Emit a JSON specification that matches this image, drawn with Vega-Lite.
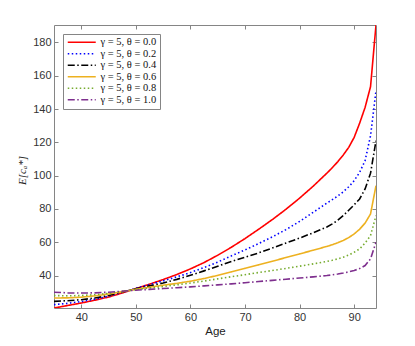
{
  "$schema": "https://vega.github.io/schema/vega-lite/v6.json",
  "width": 322,
  "height": 283,
  "autosize": {"type": "none"},
  "padding": {"left": 54, "top": 25, "right": 39, "bottom": 38},
  "background": "white",
  "config": {
    "view": {"stroke": "#858585", "strokeWidth": 1},
    "axis": {"grid": false, "domain": false, "tickColor": "#858585", "tickSize": -4, "labelFont": "Liberation Sans", "labelFontSize": 11, "labelColor": "#333333", "titleFont": "Liberation Sans", "titleFontWeight": "normal", "titleColor": "#222222"}
  },
  "datasets": {
    "curves": [
      {"a":35,"v":20.5,"k":"0.0"},{"a":37.5,"v":22,"k":"0.0"},{"a":40,"v":23.5,"k":"0.0"},{"a":42.5,"v":25.2,"k":"0.0"},{"a":45,"v":27.1,"k":"0.0"},{"a":47.5,"v":29.5,"k":"0.0"},{"a":50,"v":32.2,"k":"0.0"},{"a":52.5,"v":34.8,"k":"0.0"},{"a":55,"v":37.6,"k":"0.0"},{"a":57.5,"v":40.6,"k":"0.0"},{"a":60,"v":44,"k":"0.0"},{"a":62.5,"v":47.8,"k":"0.0"},{"a":65,"v":52.2,"k":"0.0"},{"a":67.5,"v":57,"k":"0.0"},{"a":70,"v":62.2,"k":"0.0"},{"a":72.5,"v":67.8,"k":"0.0"},{"a":75,"v":73.6,"k":"0.0"},{"a":77.5,"v":79.8,"k":"0.0"},{"a":80,"v":86.5,"k":"0.0"},{"a":82.5,"v":93.7,"k":"0.0"},{"a":85,"v":101.5,"k":"0.0"},{"a":86,"v":104.8,"k":"0.0"},{"a":87,"v":108.4,"k":"0.0"},{"a":88,"v":112.4,"k":"0.0"},{"a":89,"v":117,"k":"0.0"},{"a":90,"v":123,"k":"0.0"},{"a":91,"v":131.5,"k":"0.0"},{"a":92,"v":141,"k":"0.0"},{"a":93,"v":153.5,"k":"0.0"},{"a":94,"v":190.5,"k":"0.0"},
      {"a":35,"v":22.5,"k":"0.2"},{"a":37.5,"v":23.3,"k":"0.2"},{"a":40,"v":24.4,"k":"0.2"},{"a":42.5,"v":25.8,"k":"0.2"},{"a":45,"v":27.6,"k":"0.2"},{"a":47.5,"v":29.9,"k":"0.2"},{"a":50,"v":32.3,"k":"0.2"},{"a":52.5,"v":34.5,"k":"0.2"},{"a":55,"v":36.8,"k":"0.2"},{"a":57.5,"v":39.2,"k":"0.2"},{"a":60,"v":41.8,"k":"0.2"},{"a":62.5,"v":44.8,"k":"0.2"},{"a":65,"v":48.1,"k":"0.2"},{"a":67.5,"v":51.8,"k":"0.2"},{"a":70,"v":55.4,"k":"0.2"},{"a":72.5,"v":59.2,"k":"0.2"},{"a":75,"v":63.2,"k":"0.2"},{"a":77.5,"v":67.6,"k":"0.2"},{"a":80,"v":72.5,"k":"0.2"},{"a":82.5,"v":78,"k":"0.2"},{"a":85,"v":83.5,"k":"0.2"},{"a":86,"v":85.6,"k":"0.2"},{"a":87,"v":87.8,"k":"0.2"},{"a":88,"v":90.3,"k":"0.2"},{"a":89,"v":93.3,"k":"0.2"},{"a":90,"v":97,"k":"0.2"},{"a":91,"v":102,"k":"0.2"},{"a":92,"v":109,"k":"0.2"},{"a":93,"v":124,"k":"0.2"},{"a":94,"v":151,"k":"0.2"},
      {"a":35,"v":24.5,"k":"0.4"},{"a":37.5,"v":24.9,"k":"0.4"},{"a":40,"v":25.5,"k":"0.4"},{"a":42.5,"v":26.5,"k":"0.4"},{"a":45,"v":28,"k":"0.4"},{"a":47.5,"v":30.2,"k":"0.4"},{"a":50,"v":32,"k":"0.4"},{"a":52.5,"v":33.8,"k":"0.4"},{"a":55,"v":35.5,"k":"0.4"},{"a":57.5,"v":37.7,"k":"0.4"},{"a":60,"v":40.2,"k":"0.4"},{"a":62.5,"v":42.8,"k":"0.4"},{"a":65,"v":45.6,"k":"0.4"},{"a":67.5,"v":48.4,"k":"0.4"},{"a":70,"v":51,"k":"0.4"},{"a":72.5,"v":53.6,"k":"0.4"},{"a":75,"v":56.5,"k":"0.4"},{"a":77.5,"v":59.5,"k":"0.4"},{"a":80,"v":62.5,"k":"0.4"},{"a":82.5,"v":65.7,"k":"0.4"},{"a":85,"v":69.2,"k":"0.4"},{"a":86,"v":71,"k":"0.4"},{"a":87,"v":73.2,"k":"0.4"},{"a":88,"v":76,"k":"0.4"},{"a":89,"v":79.2,"k":"0.4"},{"a":90,"v":82.5,"k":"0.4"},{"a":91,"v":86,"k":"0.4"},{"a":92,"v":92,"k":"0.4"},{"a":93,"v":101.5,"k":"0.4"},{"a":94,"v":121,"k":"0.4"},
      {"a":35,"v":26.5,"k":"0.6"},{"a":37.5,"v":26.6,"k":"0.6"},{"a":40,"v":27,"k":"0.6"},{"a":42.5,"v":27.8,"k":"0.6"},{"a":45,"v":28.9,"k":"0.6"},{"a":47.5,"v":30.3,"k":"0.6"},{"a":50,"v":31.8,"k":"0.6"},{"a":52.5,"v":33,"k":"0.6"},{"a":55,"v":34.2,"k":"0.6"},{"a":57.5,"v":35.3,"k":"0.6"},{"a":60,"v":36.6,"k":"0.6"},{"a":62.5,"v":38.2,"k":"0.6"},{"a":65,"v":40.1,"k":"0.6"},{"a":67.5,"v":42.2,"k":"0.6"},{"a":70,"v":44.3,"k":"0.6"},{"a":72.5,"v":46.4,"k":"0.6"},{"a":75,"v":48.6,"k":"0.6"},{"a":77.5,"v":50.8,"k":"0.6"},{"a":80,"v":53,"k":"0.6"},{"a":82.5,"v":55.2,"k":"0.6"},{"a":85,"v":57.5,"k":"0.6"},{"a":86,"v":58.5,"k":"0.6"},{"a":87,"v":59.7,"k":"0.6"},{"a":88,"v":61.1,"k":"0.6"},{"a":89,"v":62.8,"k":"0.6"},{"a":90,"v":65,"k":"0.6"},{"a":91,"v":67.8,"k":"0.6"},{"a":92,"v":71.5,"k":"0.6"},{"a":93,"v":77,"k":"0.6"},{"a":94,"v":94,"k":"0.6"},
      {"a":35,"v":28,"k":"0.8"},{"a":37.5,"v":27.8,"k":"0.8"},{"a":40,"v":28,"k":"0.8"},{"a":42.5,"v":28.5,"k":"0.8"},{"a":45,"v":29.3,"k":"0.8"},{"a":47.5,"v":30.5,"k":"0.8"},{"a":50,"v":31.6,"k":"0.8"},{"a":52.5,"v":32.5,"k":"0.8"},{"a":55,"v":33.4,"k":"0.8"},{"a":57.5,"v":34.4,"k":"0.8"},{"a":60,"v":35.5,"k":"0.8"},{"a":62.5,"v":36.7,"k":"0.8"},{"a":65,"v":38,"k":"0.8"},{"a":67.5,"v":39.3,"k":"0.8"},{"a":70,"v":40.5,"k":"0.8"},{"a":72.5,"v":41.8,"k":"0.8"},{"a":75,"v":43,"k":"0.8"},{"a":77.5,"v":44.3,"k":"0.8"},{"a":80,"v":45.6,"k":"0.8"},{"a":82.5,"v":47,"k":"0.8"},{"a":85,"v":48.5,"k":"0.8"},{"a":86,"v":49.2,"k":"0.8"},{"a":87,"v":50,"k":"0.8"},{"a":88,"v":51,"k":"0.8"},{"a":89,"v":52.3,"k":"0.8"},{"a":90,"v":54,"k":"0.8"},{"a":91,"v":56,"k":"0.8"},{"a":92,"v":59.5,"k":"0.8"},{"a":93,"v":64,"k":"0.8"},{"a":94,"v":76,"k":"0.8"},
      {"a":35,"v":30,"k":"1.0"},{"a":37.5,"v":29.6,"k":"1.0"},{"a":40,"v":29.5,"k":"1.0"},{"a":42.5,"v":29.6,"k":"1.0"},{"a":45,"v":30,"k":"1.0"},{"a":47.5,"v":30.6,"k":"1.0"},{"a":50,"v":31.2,"k":"1.0"},{"a":52.5,"v":31.7,"k":"1.0"},{"a":55,"v":32.2,"k":"1.0"},{"a":57.5,"v":32.7,"k":"1.0"},{"a":60,"v":33.2,"k":"1.0"},{"a":62.5,"v":33.8,"k":"1.0"},{"a":65,"v":34.4,"k":"1.0"},{"a":67.5,"v":35,"k":"1.0"},{"a":70,"v":35.7,"k":"1.0"},{"a":72.5,"v":36.4,"k":"1.0"},{"a":75,"v":37.1,"k":"1.0"},{"a":77.5,"v":37.8,"k":"1.0"},{"a":80,"v":38.5,"k":"1.0"},{"a":82.5,"v":39.2,"k":"1.0"},{"a":85,"v":40,"k":"1.0"},{"a":86,"v":40.4,"k":"1.0"},{"a":87,"v":40.9,"k":"1.0"},{"a":88,"v":41.5,"k":"1.0"},{"a":89,"v":42.2,"k":"1.0"},{"a":90,"v":43,"k":"1.0"},{"a":91,"v":44.2,"k":"1.0"},{"a":92,"v":46,"k":"1.0"},{"a":93,"v":50,"k":"1.0"},{"a":94,"v":60,"k":"1.0"}
    ]
  },
  "data": {"name": "curves"},
  "layer": [
    {
      "mark": {"type": "line", "clip": true, "strokeWidth": 1.6},
      "encoding": {
        "x": {"field": "a", "type": "quantitative", "scale": {"domain": [35, 94], "nice": false, "zero": false},
              "axis": {"orient": "bottom", "values": [40, 50, 60, 70, 80, 90], "labelPadding": 7, "title": "Age", "titleFontSize": 11.5, "titlePadding": 3}},
        "y": {"field": "v", "type": "quantitative", "scale": {"domain": [20.5, 190.5], "nice": false, "zero": false},
              "axis": {"orient": "left", "values": [40, 60, 80, 100, 120, 140, 160, 180], "labelPadding": 7, "title": "E[cₐ*]", "titleFont": "Liberation Serif", "titleFontStyle": "italic", "titleFontSize": 11, "titleX": -27, "titleY": 145}},
        "color": {"field": "k", "type": "nominal",
                  "scale": {"domain": ["0.0", "0.2", "0.4", "0.6", "0.8", "1.0"], "range": ["#ff0000", "#0000ff", "#000000", "#edb120", "#77ac30", "#7e2f8e"]},
                  "legend": {"title": null, "orient": "none", "legendX": 9, "legendY": 9, "symbolType": "M-1,0H7", "symbolSize": 49, "symbolStrokeWidth": 1.6, "labelExpr": "'γ = 5, θ = ' + datum.label", "labelFont": "Liberation Serif", "labelFontSize": 10.5, "labelColor": "#111111", "strokeColor": "#858585", "fillColor": "white", "padding": 3, "rowPadding": 0.5, "labelOffset": 24, "offset": 0}},
        "strokeDash": {"field": "k", "type": "nominal",
                  "scale": {"domain": ["0.0", "0.2", "0.4", "0.6", "0.8", "1.0"], "range": [[1, 0], [1.5, 2.5], [7, 2.5, 1.5, 2.5], [1, 0], [1.5, 2.5], [7, 2.5, 1.5, 2.5]]},
                  "legend": {"title": null, "orient": "none", "legendX": 9, "legendY": 9, "symbolType": "M-1,0H7", "symbolSize": 49, "symbolStrokeWidth": 1.6, "labelExpr": "'γ = 5, θ = ' + datum.label", "labelFont": "Liberation Serif", "labelFontSize": 10.5, "labelColor": "#111111", "strokeColor": "#858585", "fillColor": "white", "padding": 3, "rowPadding": 0.5, "labelOffset": 24, "offset": 0}}
      }
    },
    {
      "mark": {"type": "line", "opacity": 0},
      "encoding": {
        "x": {"field": "a", "type": "quantitative", "axis": {"orient": "top", "values": [40, 50, 60, 70, 80, 90], "labels": false, "title": null}},
        "y": {"field": "v", "type": "quantitative", "axis": {"orient": "right", "values": [40, 60, 80, 100, 120, 140, 160, 180], "labels": false, "title": null}},
        "detail": {"field": "k", "type": "nominal"}
      }
    }
  ],
  "resolve": {"axis": {"x": "independent", "y": "independent"}}
}
